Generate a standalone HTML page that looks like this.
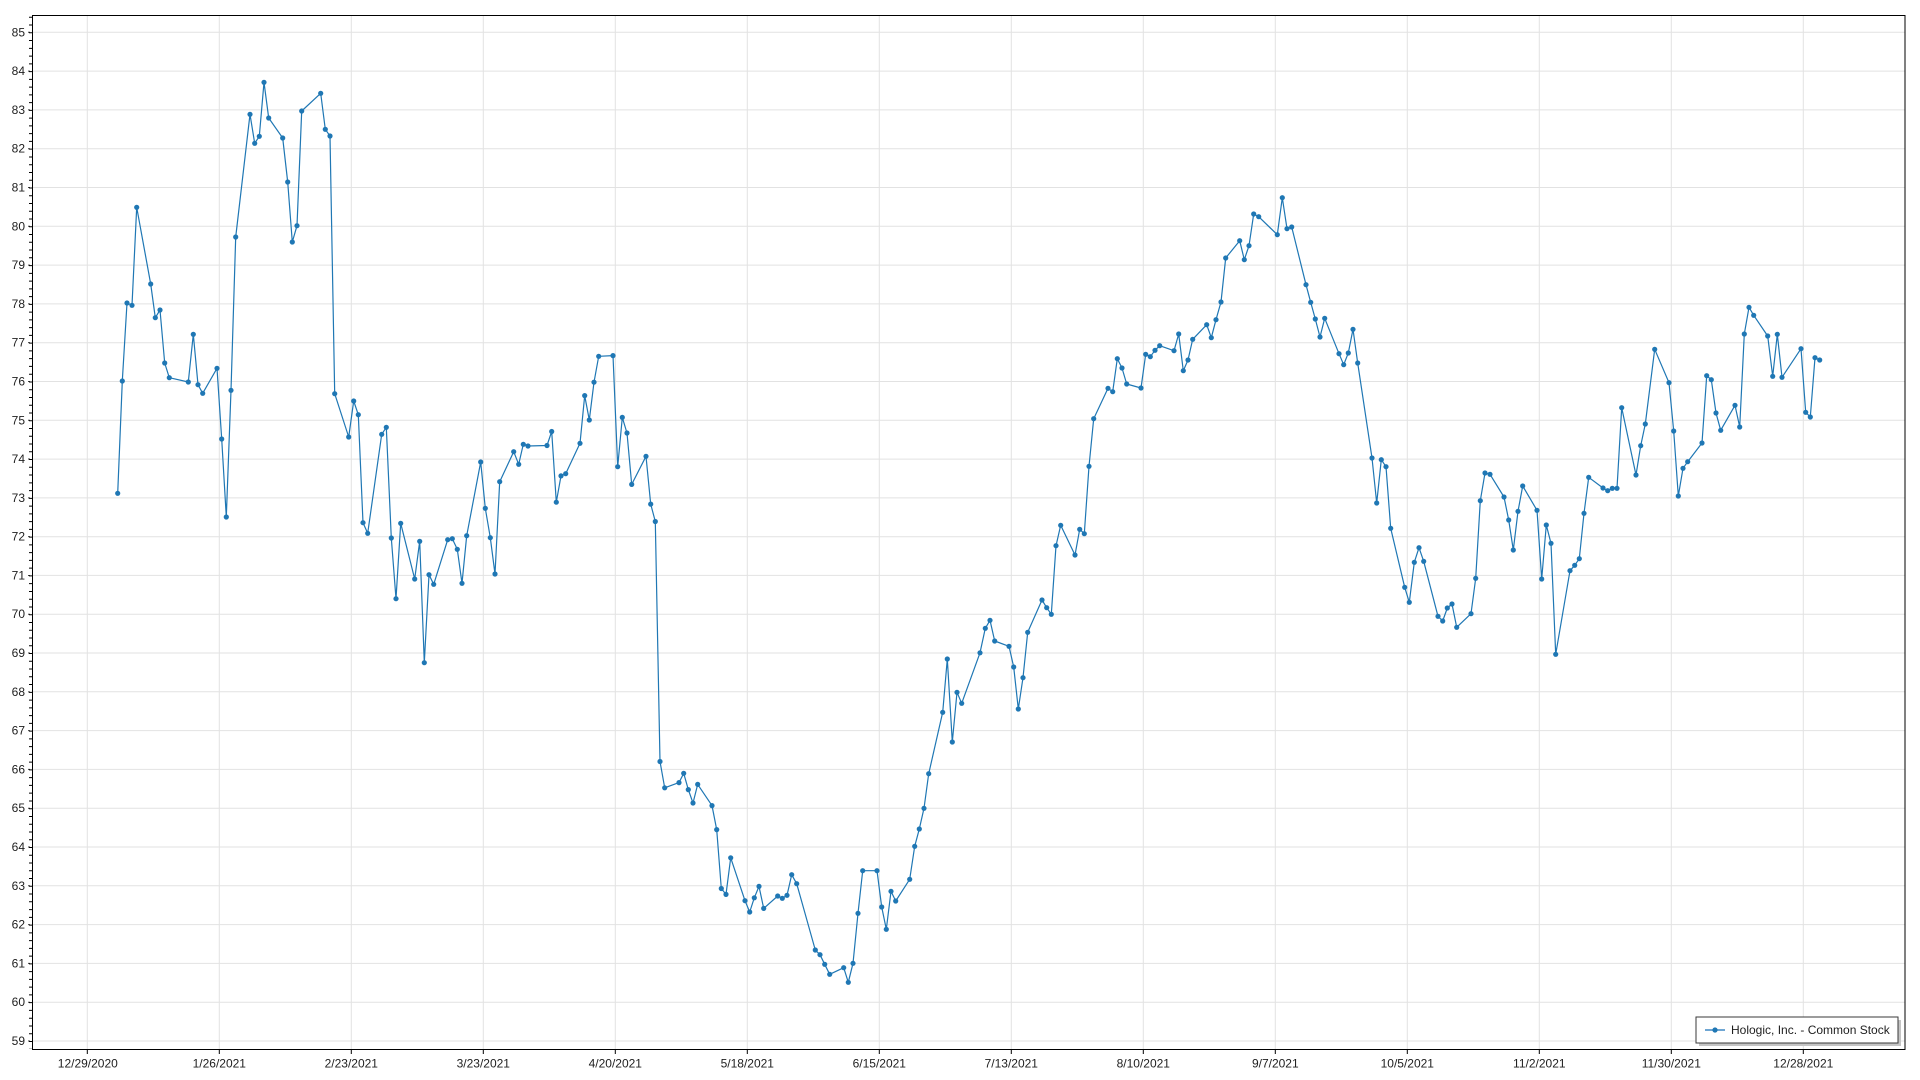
<!DOCTYPE html>
<html>
<head>
<meta charset="utf-8">
<style>
  html,body{margin:0;padding:0;background:#fff;}
  svg{display:block;}
  text{font-family:"Liberation Sans",Arial,sans-serif;font-size:12px;fill:#1e1e1e;}
</style>
</head>
<body>
<svg width="1920" height="1080" viewBox="0 0 1920 1080" xmlns="http://www.w3.org/2000/svg">
  <defs>
    <marker id="m" markerWidth="6" markerHeight="6" refX="3" refY="3" markerUnits="userSpaceOnUse">
      <circle cx="3" cy="3" r="2.6" fill="#1f77b4"/>
    </marker>
  </defs>
  <rect x="0" y="0" width="1920" height="1080" fill="#fff"/>

  <!-- horizontal gridlines -->
  <g stroke="#e2e2e2" stroke-width="1">
    <line x1="33" x2="1905" y1="32.3" y2="32.3"/>
    <line x1="33" x2="1905" y1="71.1" y2="71.1"/>
    <line x1="33" x2="1905" y1="109.9" y2="109.9"/>
    <line x1="33" x2="1905" y1="148.7" y2="148.7"/>
    <line x1="33" x2="1905" y1="187.5" y2="187.5"/>
    <line x1="33" x2="1905" y1="226.3" y2="226.3"/>
    <line x1="33" x2="1905" y1="265.1" y2="265.1"/>
    <line x1="33" x2="1905" y1="303.9" y2="303.9"/>
    <line x1="33" x2="1905" y1="342.7" y2="342.7"/>
    <line x1="33" x2="1905" y1="381.5" y2="381.5"/>
    <line x1="33" x2="1905" y1="420.3" y2="420.3"/>
    <line x1="33" x2="1905" y1="459.1" y2="459.1"/>
    <line x1="33" x2="1905" y1="497.9" y2="497.9"/>
    <line x1="33" x2="1905" y1="536.7" y2="536.7"/>
    <line x1="33" x2="1905" y1="575.4" y2="575.4"/>
    <line x1="33" x2="1905" y1="614.2" y2="614.2"/>
    <line x1="33" x2="1905" y1="653.0" y2="653.0"/>
    <line x1="33" x2="1905" y1="691.8" y2="691.8"/>
    <line x1="33" x2="1905" y1="730.6" y2="730.6"/>
    <line x1="33" x2="1905" y1="769.4" y2="769.4"/>
    <line x1="33" x2="1905" y1="808.2" y2="808.2"/>
    <line x1="33" x2="1905" y1="847.0" y2="847.0"/>
    <line x1="33" x2="1905" y1="885.8" y2="885.8"/>
    <line x1="33" x2="1905" y1="924.6" y2="924.6"/>
    <line x1="33" x2="1905" y1="963.4" y2="963.4"/>
    <line x1="33" x2="1905" y1="1002.2" y2="1002.2"/>
    <line x1="33" x2="1905" y1="1041.0" y2="1041.0"/>
  </g>
  <!-- vertical gridlines -->
  <g stroke="#e2e2e2" stroke-width="1">
    <line y1="16" y2="1049" x1="87.3" x2="87.3"/>
    <line y1="16" y2="1049" x1="219.3" x2="219.3"/>
    <line y1="16" y2="1049" x1="351.3" x2="351.3"/>
    <line y1="16" y2="1049" x1="483.3" x2="483.3"/>
    <line y1="16" y2="1049" x1="615.3" x2="615.3"/>
    <line y1="16" y2="1049" x1="747.3" x2="747.3"/>
    <line y1="16" y2="1049" x1="879.3" x2="879.3"/>
    <line y1="16" y2="1049" x1="1011.3" x2="1011.3"/>
    <line y1="16" y2="1049" x1="1143.3" x2="1143.3"/>
    <line y1="16" y2="1049" x1="1275.3" x2="1275.3"/>
    <line y1="16" y2="1049" x1="1407.3" x2="1407.3"/>
    <line y1="16" y2="1049" x1="1539.3" x2="1539.3"/>
    <line y1="16" y2="1049" x1="1671.3" x2="1671.3"/>
    <line y1="16" y2="1049" x1="1803.3" x2="1803.3"/>
  </g>

  <!-- frame -->
  <rect x="32.5" y="15.5" width="1872.5" height="1034" fill="none" stroke="#000" stroke-width="1"/>

  <!-- y ticks: minor and major via dash pattern -->
  <line x1="30.5" x2="30.5" y1="16.78" y2="1049" stroke="#000" stroke-width="3" stroke-dasharray="1 6.759" />
  <line x1="29" x2="29" y1="31.8" y2="1049" stroke="#000" stroke-width="1.5" stroke-dasharray="1 37.796" />

  <!-- x ticks -->
  <g stroke="#000" stroke-width="1">
    <line x1="87.3" x2="87.3" y1="1049.5" y2="1054"/>
    <line x1="219.3" x2="219.3" y1="1049.5" y2="1054"/>
    <line x1="351.3" x2="351.3" y1="1049.5" y2="1054"/>
    <line x1="483.3" x2="483.3" y1="1049.5" y2="1054"/>
    <line x1="615.3" x2="615.3" y1="1049.5" y2="1054"/>
    <line x1="747.3" x2="747.3" y1="1049.5" y2="1054"/>
    <line x1="879.3" x2="879.3" y1="1049.5" y2="1054"/>
    <line x1="1011.3" x2="1011.3" y1="1049.5" y2="1054"/>
    <line x1="1143.3" x2="1143.3" y1="1049.5" y2="1054"/>
    <line x1="1275.3" x2="1275.3" y1="1049.5" y2="1054"/>
    <line x1="1407.3" x2="1407.3" y1="1049.5" y2="1054"/>
    <line x1="1539.3" x2="1539.3" y1="1049.5" y2="1054"/>
    <line x1="1671.3" x2="1671.3" y1="1049.5" y2="1054"/>
    <line x1="1803.3" x2="1803.3" y1="1049.5" y2="1054"/>
  </g>

  <!-- y labels -->
  <g text-anchor="end" dominant-baseline="central">
    <text x="25" y="32.3">85</text>
    <text x="25" y="71.1">84</text>
    <text x="25" y="109.9">83</text>
    <text x="25" y="148.7">82</text>
    <text x="25" y="187.5">81</text>
    <text x="25" y="226.3">80</text>
    <text x="25" y="265.1">79</text>
    <text x="25" y="303.9">78</text>
    <text x="25" y="342.7">77</text>
    <text x="25" y="381.5">76</text>
    <text x="25" y="420.3">75</text>
    <text x="25" y="459.1">74</text>
    <text x="25" y="497.9">73</text>
    <text x="25" y="536.7">72</text>
    <text x="25" y="575.4">71</text>
    <text x="25" y="614.2">70</text>
    <text x="25" y="653.0">69</text>
    <text x="25" y="691.8">68</text>
    <text x="25" y="730.6">67</text>
    <text x="25" y="769.4">66</text>
    <text x="25" y="808.2">65</text>
    <text x="25" y="847.0">64</text>
    <text x="25" y="885.8">63</text>
    <text x="25" y="924.6">62</text>
    <text x="25" y="963.4">61</text>
    <text x="25" y="1002.2">60</text>
    <text x="25" y="1041.0">59</text>
  </g>

  <!-- x labels -->
  <g text-anchor="middle" dominant-baseline="central">
    <text x="87.8" y="1063.5">12/29/2020</text>
    <text x="219.3" y="1063.5">1/26/2021</text>
    <text x="351.3" y="1063.5">2/23/2021</text>
    <text x="483.3" y="1063.5">3/23/2021</text>
    <text x="615.3" y="1063.5">4/20/2021</text>
    <text x="747.3" y="1063.5">5/18/2021</text>
    <text x="879.3" y="1063.5">6/15/2021</text>
    <text x="1011.3" y="1063.5">7/13/2021</text>
    <text x="1143.3" y="1063.5">8/10/2021</text>
    <text x="1275.3" y="1063.5">9/7/2021</text>
    <text x="1407.3" y="1063.5">10/5/2021</text>
    <text x="1539.3" y="1063.5">11/2/2021</text>
    <text x="1671.3" y="1063.5">11/30/2021</text>
    <text x="1803.3" y="1063.5">12/28/2021</text>
  </g>

  <!-- series -->
  <polyline fill="none" stroke="#1f77b4" stroke-width="1.2" stroke-linejoin="round"
    marker-start="url(#m)" marker-mid="url(#m)" marker-end="url(#m)"
    points="117.7,493.3 122.3,381 127,303 132,305.3 136.7,207.3 150.7,284 155.3,317.7 160,310 164.7,363 169.3,377.7 188.3,382 193.3,334.3 198,384.7 202.7,393.3 217,368.3 221.7,439 226.3,517 231,390.3 235.7,237 250,114.3 254.7,143.3 259.3,136.3 264,82.3 268.7,118 282.7,138 287.7,182 292.3,242 297,225.7 301.7,111 320.7,93.3 325.3,129.3 330,136 334.7,393.7 348.7,437 353.7,401 358.3,414.7 363,522.7 367.7,533.3 381.7,434.3 386.3,427.3 391.3,538 396,598.7 400.7,523.3 414.7,579 419.7,541.3 424.3,662.7 429,574.7 433.7,584.3 447.7,539.7 452.3,538.7 457.3,549.3 462,583.3 466.7,535.7 480.7,462 485.3,508.3 490.3,537.7 495,574 499.7,481.7 513.7,451.7 518.7,464.3 523.3,444.3 528,446 547,445.5 551.7,431.5 556.3,502.2 561,475.9 565.7,473.7 580,443.3 584.7,395.6 589.3,420 594,382.2 598.7,356.3 613,355.6 617.7,466.7 622.3,417.4 627,433 631.7,484.4 646,456.3 650.7,504.1 655.3,521.5 660,761.5 664.7,787.8 679,782.6 683.7,773.3 688.3,789.6 693,803 697.7,784.4 712,805.6 716.7,829.6 721.3,888.5 726,894.4 730.7,857.8 745,900.7 749.7,912 754.3,897.8 759,886.4 763.7,908.4 777.7,896 782.3,898.3 787,895.3 791.7,874.7 796.7,883.7 815.3,950 820,954.7 824.7,964.3 829.7,974.3 843.7,967.7 848.3,982.3 853,963.3 858,913.3 862.7,870.7 877,870.7 881.7,907 886.3,929.3 891,891.3 895.7,901 909.7,879.3 914.7,846.3 919.3,829 924,808.3 928.7,773.7 942.7,712.3 947.3,659 952.3,742 957,692.3 961.7,703.3 980,652.8 985.3,628.3 990,620.3 994.7,641 1009,646.3 1013.7,667 1018.3,709 1023,677.7 1027.7,632.3 1042,600 1046.7,607.7 1051.3,614.3 1056,545.7 1060.7,525.3 1075,555 1079.7,529.3 1084.3,533.7 1089,466.3 1093.7,418.7 1108,388.3 1112.7,391.7 1117.3,358.7 1122,368 1126.7,384 1141,388 1145.7,354.3 1150.3,356.7 1155,350.3 1159.7,345.7 1174,350.7 1178.7,334 1183.3,370.7 1188,360 1192.7,339.3 1206.7,324.7 1211.3,337.7 1216,319.7 1221,302 1225.7,258 1239.7,240.7 1244.3,259.7 1249,245.7 1253.7,214 1258.7,216.7 1277.3,234.7 1282.3,197.7 1287,228.7 1291.7,227 1306,284.7 1310.7,302.3 1315.3,319 1320,337 1324.7,318.3 1339,353.7 1343.7,364.7 1348.3,353 1353,329.3 1357.7,363 1372,458 1376.7,503 1381.3,459.7 1386,466.7 1390.7,528.3 1404.7,587.3 1409.3,602.3 1414.3,562.3 1419,547.7 1423.7,561.3 1438,616.3 1442.7,621 1447.3,608 1452,604 1456.7,627.3 1471,613.7 1475.7,578.3 1480.3,500.7 1485,473 1490,474.3 1504,497 1508.7,520 1513.3,550 1518,511.3 1522.7,486 1537,510.3 1541.7,579 1546.3,525 1551,543.3 1555.7,654.3 1570,570.7 1574.7,565.3 1579.3,558.7 1584,513.3 1588.7,477.3 1603,488 1607.7,490.7 1612.3,488.3 1617,488.3 1621.7,407.7 1636,475 1640.7,445.7 1645.3,424 1654.7,349.3 1669,382.7 1673.7,431 1678.3,496 1683,468.3 1687.7,461.7 1702,443 1706.7,375.7 1711.3,379.7 1716,413 1720.7,430.3 1735,405.3 1739.7,427 1744.3,334 1749,307.3 1753.7,315.3 1767.7,336 1772.7,376.3 1777.3,334.3 1782,377.3 1801,348.7 1805.7,412.3 1810.3,417 1815,357.7 1819.7,360"/>

  <!-- legend -->
  <rect x="1699" y="1020" width="202" height="26" fill="#c4c4c4"/>
  <rect x="1696" y="1017" width="202" height="26" fill="#fff" stroke="#3a3a3a" stroke-width="1"/>
  <line x1="1705" x2="1725" y1="1030" y2="1030" stroke="#6fa6d3" stroke-width="2"/>
  <circle cx="1715" cy="1030" r="2.6" fill="#1f77b4"/>
  <text x="1731" y="1030" dominant-baseline="central">Hologic, Inc. - Common Stock</text>
</svg>
</body>
</html>
